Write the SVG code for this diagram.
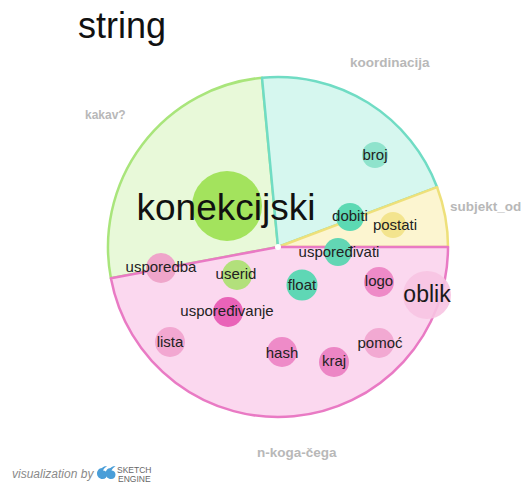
<svg xmlns="http://www.w3.org/2000/svg" width="521" height="484" viewBox="0 0 521 484">
<style>
  .w { font-family: "Liberation Sans", Arial, sans-serif; font-size: 15px; fill: #222; text-anchor: middle; }
  .big { font-size: 37px; fill: #111; }
  .mid { font-size: 23px; fill: #1a1a1a; }
  .lab { font-family: "Liberation Sans", Arial, sans-serif; font-weight: bold; fill: #b8b8b8; }
  .sec { stroke-width: 2.5; stroke-linejoin: round; }
  .b { stroke: none; }
</style>
<rect width="521" height="484" fill="#ffffff"/>
<text x="78" y="38" font-family="'Liberation Sans', Arial, sans-serif" font-size="36" fill="#111">string</text>

<g id="sectors">
  <g id="sector-kakav">
    <path class="sec" d="M278,247 L110.9,278.3 A170,170 0 0 1 262,77.7 Z" fill="#e8f9d9" stroke="#a9e57b"/>
    <text class="lab" x="85" y="119" font-size="12">kakav?</text>
  </g>
  <g id="sector-koordinacija">
    <path class="sec" d="M278,247 L262,77.7 A170,170 0 0 1 437.1,187.2 Z" fill="#d6f7ef" stroke="#70dcc4"/>
    <text class="lab" x="350" y="67" font-size="13.5">koordinacija</text>
  </g>
  <g id="sector-subjekt_od">
    <path class="sec" d="M278,247 L437.1,187.2 A170,170 0 0 1 448,247 Z" fill="#fcf5d0" stroke="#eee07a"/>
    <text class="lab" x="450" y="211" font-size="13.5">subjekt_od</text>
  </g>
  <g id="sector-n-koga-cega">
    <path class="sec" d="M278,247 L448,247 A170,170 0 0 1 110.9,278.3 Z" fill="#fbd8ef" stroke="#e97ac4"/>
    <text class="lab" x="257" y="457" font-size="13.5">n-koga-čega</text>
  </g>
  <circle cx="278" cy="247" r="3" fill="#ffffff"/>
</g>

<g id="connectors"></g>

<g id="words">
  <g id="w-konekcijski"><circle class="b" cx="227" cy="206" r="35" fill="#a3e35d"/><text class="w big" x="226" y="220">konekcijski</text></g>
  <g id="w-broj"><circle class="b" cx="375" cy="155" r="13" fill="#8fe3cc"/><text class="w" x="375" y="160">broj</text></g>
  <g id="w-dobiti"><circle class="b" cx="350" cy="217" r="14" fill="#5cd9b3"/><text class="w" x="350" y="221">dobiti</text></g>
  <g id="w-postati"><circle class="b" cx="393" cy="225" r="13" fill="#f3e48e"/><text class="w" x="395" y="230">postati</text></g>
  <g id="w-usporedivati"><circle class="b" cx="338" cy="252" r="14" fill="#62d6b4"/><text class="w" x="339" y="257">uspoređivati</text></g>
  <g id="w-usporedba"><circle class="b" cx="161" cy="268" r="15" fill="#efa5ca"/><text class="w" x="161" y="272">usporedba</text></g>
  <g id="w-userid"><circle class="b" cx="237" cy="275" r="15" fill="#b2e07b"/><text class="w" x="236" y="279">userid</text></g>
  <g id="w-float"><circle class="b" cx="302" cy="285" r="15.5" fill="#5fd7b5"/><text class="w" x="302" y="290">float</text></g>
  <g id="w-logo"><circle class="b" cx="379" cy="282" r="15" fill="#ee8ac7"/><text class="w" x="379" y="286">logo</text></g>
  <g id="w-oblik"><circle class="b" cx="427" cy="295" r="24" fill="#f7c4e2" fill-opacity="0.9"/><text class="w mid" x="427" y="302">oblik</text></g>
  <g id="w-usporedivanje"><circle class="b" cx="228" cy="312" r="15" fill="#e963b8"/><text class="w" x="227" y="316">uspoređivanje</text></g>
  <g id="w-lista"><circle class="b" cx="170" cy="342" r="15" fill="#f2a7d1"/><text class="w" x="170" y="347">lista</text></g>
  <g id="w-hash"><circle class="b" cx="282" cy="352" r="15" fill="#ee8bc8"/><text class="w" x="282" y="358">hash</text></g>
  <g id="w-kraj"><circle class="b" cx="334" cy="362" r="15" fill="#ec86c5"/><text class="w" x="334" y="366">kraj</text></g>
  <g id="w-pomoc"><circle class="b" cx="379" cy="343" r="15" fill="#f2a9d2"/><text class="w" x="380" y="348">pomoć</text></g>
</g>

<g id="credit">
  <text x="12" y="478" font-family="'Liberation Sans', Arial, sans-serif" font-size="12" font-style="italic" fill="#8a8a8a">visualization by</text>
  <g fill="#4a9ed8">
    <path d="M102,468 C99,468 97,471 97,473.5 C97,476.5 99.5,479 102.5,479 C105.5,479 107,477 107,474.5 C107,472 105,470.5 103,470.5 C103.5,469 105,467.5 107,466.5 C105,466 103.5,466.8 102,468 Z"/>
    <path d="M110.5,468 C107.5,468 105.5,471 105.5,473.5 C105.5,476.5 108,479 111,479 C114,479 115.5,477 115.5,474.5 C115.5,472 113.5,470.5 111.5,470.5 C112,469 113.5,467.5 115.5,466.5 C113.5,466 112,466.8 110.5,468 Z"/>
  </g>
  <text x="117" y="473" font-family="'Liberation Sans', Arial, sans-serif" font-size="8.5" fill="#666">SKETCH</text>
  <text x="118" y="482" font-family="'Liberation Sans', Arial, sans-serif" font-size="8.5" fill="#666">ENGINE</text>
</g>
</svg>
